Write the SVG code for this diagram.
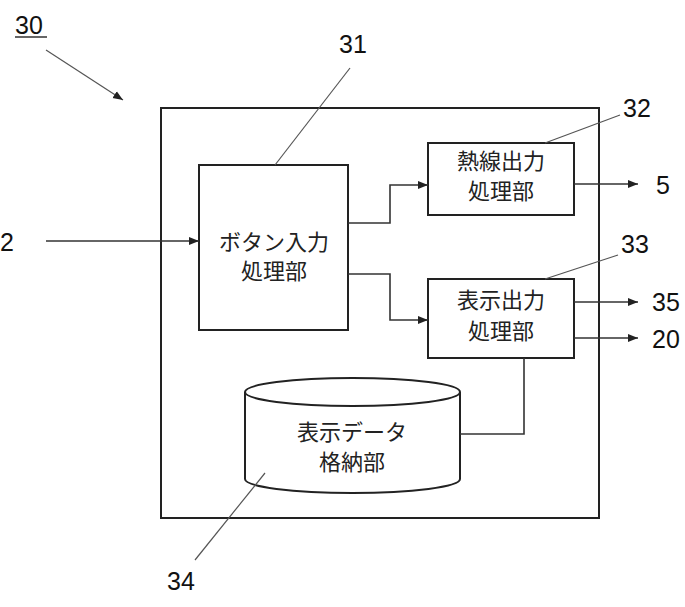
<svg xmlns="http://www.w3.org/2000/svg" width="685" height="607" viewBox="0 0 685 607">
<style>
.box{fill:#fff;stroke:#222;stroke-width:2}
.ln{fill:none;stroke:#333;stroke-width:1.6}
.ld{fill:none;stroke:#555;stroke-width:1.2}
.jp{font-family:"Noto Sans CJK JP","Noto Sans",sans-serif;font-size:22px;fill:#222;text-anchor:middle}
.num{font-family:"Liberation Sans",Arial,sans-serif;font-size:25px;fill:#111}
</style>
<defs>
<marker id="ar" viewBox="0 0 10 10" refX="10" refY="5" markerWidth="10" markerHeight="10" markerUnits="userSpaceOnUse" orient="auto">
<path d="M0,1 L10,5 L0,9 Z" fill="#222"/>
</marker>
</defs>
<g id="frame30">
<rect class="box" x="161" y="108" width="438" height="410"/>
<text class="num" x="15" y="34">30</text>
<line x1="15" y1="37" x2="47" y2="37" stroke="#333" stroke-width="1.5"/>
</g>
<g id="node31">
<rect class="box" x="199" y="165" width="149" height="165"/>
<text class="jp" x="274" y="250">ボタン入力</text>
<text class="jp" x="274" y="279">処理部</text>
<text class="num" x="339" y="53">31</text>
</g>
<g id="node32">
<rect class="box" x="428" y="143" width="146" height="72"/>
<text class="jp" x="501" y="169">熱線出力</text>
<text class="jp" x="501" y="199">処理部</text>
<text class="num" x="623" y="117">32</text>
</g>
<g id="node33">
<rect class="box" x="428" y="279" width="146" height="79"/>
<text class="jp" x="501" y="308">表示出力</text>
<text class="jp" x="501" y="339">処理部</text>
<text class="num" x="621" y="253">33</text>
</g>
<g id="node34">
<path class="box" d="M245,392 L245,479 A107.5,14 0 0 0 460,479 L460,392"/>
<ellipse class="box" cx="352.5" cy="392" rx="107.5" ry="14"/>
<text class="jp" x="352" y="440">表示データ</text>
<text class="jp" x="352" y="470">格納部</text>
<text class="num" x="167" y="590">34</text>
</g>
<g id="labels">
<text class="num" x="0" y="251">2</text>
<text class="num" x="656" y="194">5</text>
<text class="num" x="652" y="311">35</text>
<text class="num" x="652" y="348">20</text>
</g>
<g id="connectors">
<line class="ld" x1="46" y1="50" x2="123" y2="100" marker-end="url(#ar)"/>
<line class="ln" x1="46" y1="241" x2="199" y2="241" marker-end="url(#ar)"/>
<polyline class="ln" points="348,223 390,223 390,185 428,185" marker-end="url(#ar)"/>
<polyline class="ln" points="348,274 390,274 390,320 428,320" marker-end="url(#ar)"/>
<line class="ln" x1="574" y1="184" x2="638" y2="184" marker-end="url(#ar)"/>
<line class="ln" x1="574" y1="302" x2="638" y2="302" marker-end="url(#ar)"/>
<line class="ln" x1="574" y1="338" x2="638" y2="338" marker-end="url(#ar)"/>
<polyline class="ln" points="524,358 524,434 460,434"/>
<line class="ld" x1="275" y1="165" x2="350" y2="68"/>
<line class="ld" x1="545" y1="143" x2="620" y2="115"/>
<line class="ld" x1="545" y1="279" x2="618" y2="255"/>
<line class="ld" x1="265" y1="473" x2="195" y2="560"/>
</g>
</svg>
